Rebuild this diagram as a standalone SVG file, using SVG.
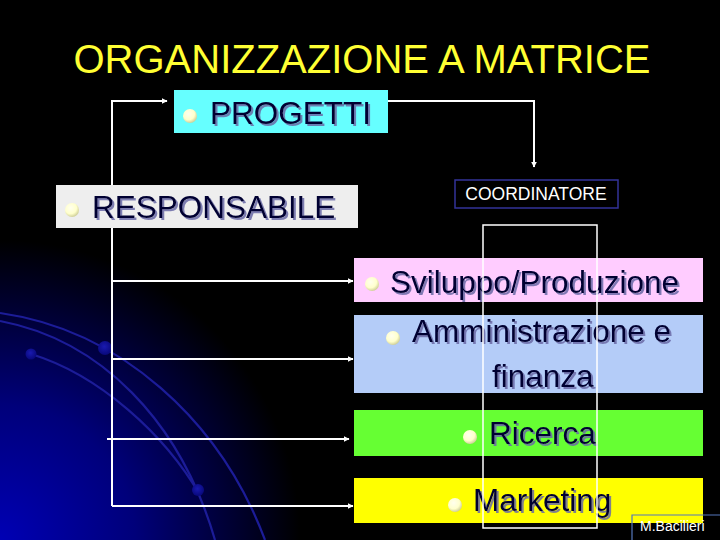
<svg xmlns="http://www.w3.org/2000/svg" width="720" height="540" viewBox="0 0 720 540">
  <defs>
    <radialGradient id="glow" cx="0" cy="540" r="300" gradientUnits="userSpaceOnUse">
      <stop offset="0" stop-color="#0000b4"/>
      <stop offset="0.45" stop-color="#00007a"/>
      <stop offset="1" stop-color="#000000"/>
    </radialGradient>
    <radialGradient id="bul" cx="0.4" cy="0.35" r="0.7">
      <stop offset="0" stop-color="#ffffee"/>
      <stop offset="0.6" stop-color="#ffffcc"/>
      <stop offset="1" stop-color="#c8c890"/>
    </radialGradient>
    <radialGradient id="dot" cx="0.45" cy="0.4" r="0.6">
      <stop offset="0" stop-color="#1a1ab0"/>
      <stop offset="1" stop-color="#08087a"/>
    </radialGradient>
    <filter id="shadow" x="-5%" y="-20%" width="115%" height="150%">
      <feDropShadow dx="2" dy="2" stdDeviation="0.4" flood-color="#6a6aa6" flood-opacity="0.85"/>
    </filter>
    <marker id="arr" viewBox="0 0 10 10" refX="9" refY="5" markerWidth="3" markerHeight="3" orient="auto" markerUnits="strokeWidth">
      <path d="M0,0 L10,5 L0,10 z" fill="#ffffff"/>
    </marker>
    <style>
      .lbl { font-family: "Liberation Sans", Arial, sans-serif; font-size: 31.5px; fill: #000033; filter: url(#shadow); }
      .con { stroke: #ffffff; stroke-width: 2; fill: none; }
      .arc { stroke: #1c1c98; stroke-width: 2.2; fill: none; }
    </style>
  </defs>

  <rect width="720" height="540" fill="#000000"/>
  <rect width="720" height="540" fill="url(#glow)"/>

  <g id="decor">
    <path class="arc" d="M0,313 C120,330 220,420 265,540"/>
    <path class="arc" d="M0,321 C100,340 180,420 215,540"/>
    <path class="arc" d="M31,354 C100,375 165,435 200,495"/>
    <circle cx="105" cy="348" r="7" fill="url(#dot)"/>
    <circle cx="31" cy="354" r="5.5" fill="url(#dot)"/>
    <circle cx="198" cy="490" r="6" fill="url(#dot)"/>
  </g>

  <text id="title" x="362" y="73" text-anchor="middle" font-family="Liberation Sans, Arial, sans-serif" font-size="40" fill="#ffff33">ORGANIZZAZIONE A MATRICE</text>

  <g id="connectors">
    <path class="con" d="M112,506 L112,101 L167,101" marker-end="url(#arr)"/>
    <path class="con" d="M388,101 L534,101 L534,167" marker-end="url(#arr)"/>
    <path class="con" d="M112,281 L353,281" marker-end="url(#arr)"/>
    <path class="con" d="M112,359 L353,359" marker-end="url(#arr)"/>
    <path class="con" d="M107,439 L349,439" marker-end="url(#arr)"/>
    <path class="con" d="M112,506 L353,506" marker-end="url(#arr)"/>
  </g>

  <g id="progetti">
    <rect x="174" y="90" width="214" height="43" fill="#66ffff"/>
    <circle cx="190" cy="116" r="7" fill="url(#bul)"/>
    <text class="lbl" x="210" y="124">PROGETTI</text>
  </g>

  <g id="responsabile">
    <rect x="56" y="185" width="302" height="43" fill="#eeeeee"/>
    <circle cx="72" cy="210" r="7" fill="url(#bul)"/>
    <text class="lbl" x="92" y="218">RESPONSABILE</text>
  </g>

  <g id="coordinatore">
    <rect x="455" y="180" width="163" height="28" fill="#000000" stroke="#333399" stroke-width="1.5"/>
    <text x="536" y="200" text-anchor="middle" font-family="Liberation Sans, Arial, sans-serif" font-size="17.5" fill="#ffffff">COORDINATORE</text>
  </g>

  <g id="sviluppo">
    <rect x="354" y="258" width="349" height="44" fill="#ffccff"/>
    <circle cx="372" cy="284" r="7" fill="url(#bul)"/>
    <text class="lbl" x="390" y="293">Sviluppo/Produzione</text>
  </g>

  <g id="amministrazione">
    <rect x="354" y="315" width="349" height="78" fill="#b4ccf8"/>
    <circle cx="393" cy="338" r="7" fill="url(#bul)"/>
    <text class="lbl" x="412" y="342">Amministrazione e</text>
    <text class="lbl" x="492" y="387">finanza</text>
  </g>

  <g id="ricerca">
    <rect x="354" y="410" width="349" height="46" fill="#66ff33"/>
    <circle cx="470" cy="437" r="7" fill="url(#bul)"/>
    <text class="lbl" x="489" y="444">Ricerca</text>
  </g>

  <g id="marketing">
    <rect x="354" y="478" width="349" height="45" fill="#ffff00"/>
    <circle cx="455" cy="505" r="7" fill="url(#bul)"/>
    <text class="lbl" x="473" y="511">Marketing</text>
  </g>

  <g id="frame">
    <rect x="483" y="225" width="114" height="303" fill="none" stroke="#ffffff" stroke-width="1.5"/>
  </g>

  <g id="author">
    <path d="M632,545 L632,515 L725,515" fill="none" stroke="#5577bb" stroke-width="1.2"/>
    <text x="640" y="531" font-family="Liberation Sans, Arial, sans-serif" font-size="14" fill="#ffffff">M.Bacilieri</text>
  </g>
</svg>
